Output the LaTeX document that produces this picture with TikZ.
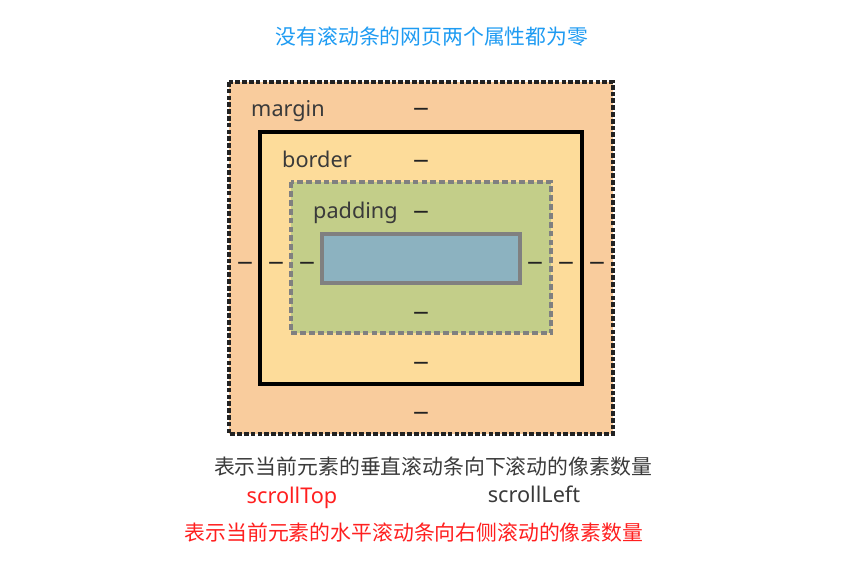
\documentclass[tikz,border=0pt]{standalone}
\usepackage{fontspec}
\setmainfont{Noto Sans CJK SC}
\newfontfamily\latinfont{Noto Sans}
\newfontfamily\dashfont{DejaVu Sans}
\definecolor{marginfill}{HTML}{F9CC9D}
\definecolor{borderfill}{HTML}{FDDC9A}
\definecolor{paddingfill}{HTML}{C3CE89}
\definecolor{contentfill}{HTML}{8CB2C0}
\definecolor{titleblue}{HTML}{1E9BF2}
\definecolor{textgray}{HTML}{3A3A3A}
\definecolor{textred}{HTML}{FF1F1F}
\definecolor{darkline}{HTML}{222222}
\definecolor{grayline}{HTML}{808080}
\newcommand{\wdash}{\scalebox{1.6}[1.25]{–}}
\tikzset{
  lbl/.style={font=\latinfont\fontsize{18.5pt}{20pt}\selectfont, text=textgray, inner sep=0pt, anchor=base west},
  dsh/.style={font=\dashfont\fontsize{18pt}{20pt}\selectfont, text=darkline, inner sep=0pt, anchor=base},
  captxt/.style={font=\fontsize{17.8pt}{20pt}\selectfont, inner sep=0pt},
  marginbox/.style={fill=marginfill, draw=darkline, line width=2.6pt, dash pattern=on 4pt off 1.8pt},
  borderbox/.style={fill=borderfill, draw=black, line width=3pt},
  paddingbox/.style={fill=paddingfill, draw=grayline, line width=2.6pt, dash pattern=on 5pt off 2.6pt},
  contentbox/.style={fill=contentfill, draw=grayline, line width=2.8pt},
}
\begin{document}
\begin{tikzpicture}[x=0.03cm,y=-0.03cm]
\useasboundingbox (0,0) rectangle (863,563);
\draw[marginbox] (229,82) rectangle (613,434);
\draw[borderbox] (260,132) rectangle (582,384);
\draw[paddingbox] (291,182) rectangle (551,333);
\draw[contentbox] (322,234) rectangle (520,283);

\node[captxt, text=titleblue] (title) at (432,37) {没有滚动条的网页两个属性都为零};

\node[lbl] (lmargin) at (251,116) {margin};
\node[lbl] (lborder) at (282,167) {border};
\node[lbl] (lpadding) at (313,218) {padding};

\node[dsh] (dmt) at (421,117) {\wdash};
\node[dsh] (dbt) at (421,168) {\wdash};
\node[dsh] (dpt) at (421,219) {\wdash};
\node[dsh] (dpb) at (421,320) {\wdash};
\node[dsh] (dbb) at (421,370) {\wdash};
\node[dsh] (dmb) at (421,420) {\wdash};
\node[dsh] (dml) at (245,270) {\wdash};
\node[dsh] (dbl) at (276,270) {\wdash};
\node[dsh] (dpl) at (307,270) {\wdash};
\node[dsh] (dpr) at (535,270) {\wdash};
\node[dsh] (dbr) at (566,270) {\wdash};
\node[dsh] (dmr) at (597,270) {\wdash};

\node[captxt, text=textgray] (vdesc) at (433,467) {表示当前元素的垂直滚动条向下滚动的像素数量};
\node[lbl, text=textred, anchor=base] (stop) at (292,503) {scrollTop};
\node[lbl, anchor=base] (sleft) at (534,502) {scrollLeft};
\node[captxt, text=textred] (hdesc) at (414,533) {表示当前元素的水平滚动条向右侧滚动的像素数量};
\end{tikzpicture}
\end{document}
